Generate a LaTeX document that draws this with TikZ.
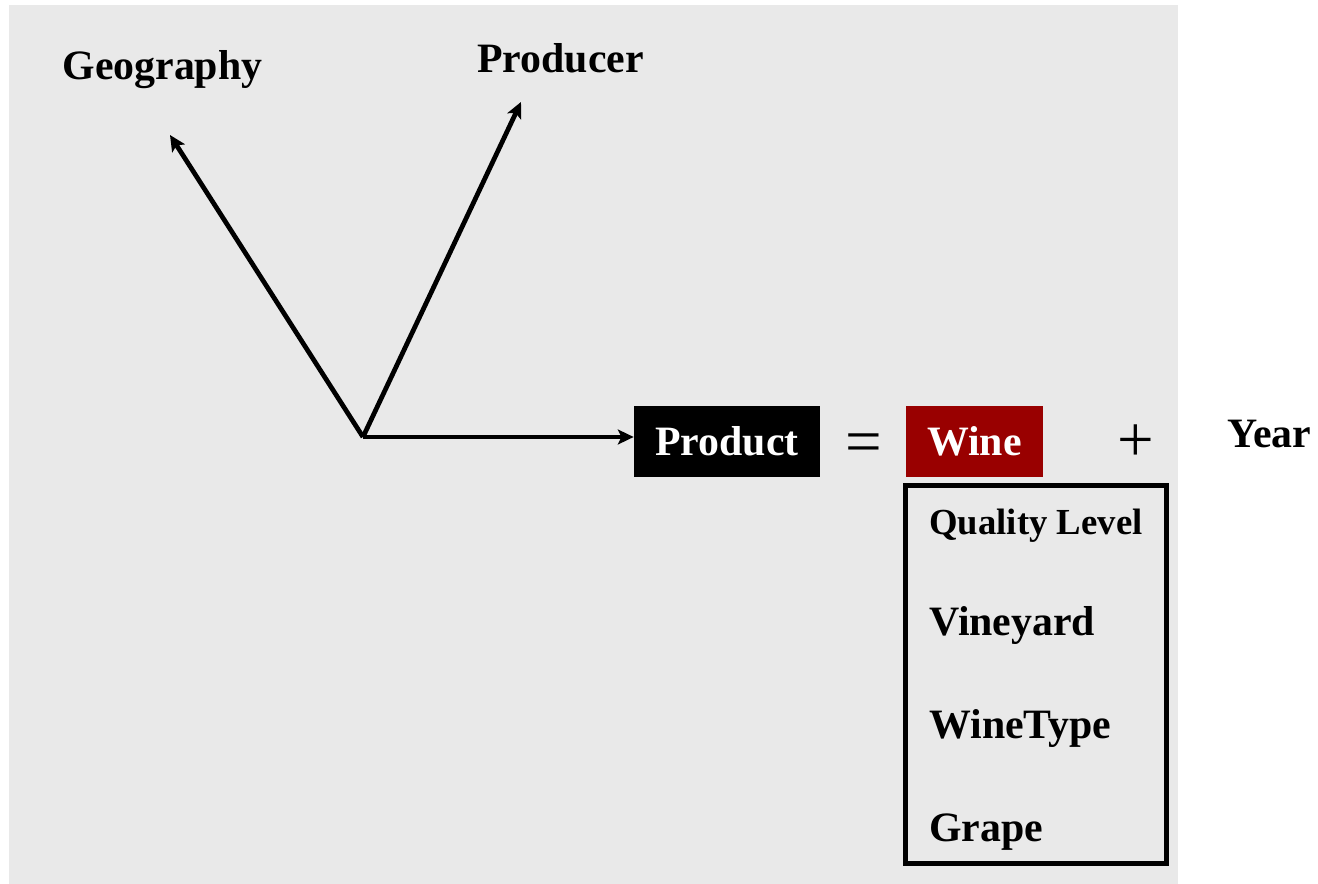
\documentclass[tikz,border=0pt]{standalone}
\usepackage{fontspec}
\setmainfont{Liberation Serif}
\usetikzlibrary{arrows.meta}
\definecolor{bggray}{RGB}{233,233,233}
\definecolor{winered}{RGB}{153,0,0}
\tikzset{
  lbl/.style={font=\fontsize{23.8}{28}\selectfont\bfseries, inner sep=0pt, anchor=base},
  attr/.style={font=\fontsize{23.8}{28}\selectfont\bfseries, inner sep=0pt, anchor=base west},
  sym/.style={font=\fontsize{37}{40}\selectfont, inner sep=0pt, anchor=base},
  conn/.style={line width=2.7pt, -{Stealth[length=9pt,width=8.5pt,inset=2pt]}},
  boxed/.style={font=\fontsize{23.8}{28}\selectfont\bfseries, text=white, inner sep=0pt,
    text height=0.58cm, text depth=0pt},
}
\begin{document}
\begin{tikzpicture}[x=0.02cm, y=-0.02cm]
\useasboundingbox (0,0) rectangle (1318,884);
\fill[bggray] (9,5) rectangle (1178,884);

\node[lbl] (geo) at (162.5,80) {Geography};
\node[lbl] (prod) at (560.5,73) {Producer};
\node[lbl] (year) at (1269.5,448) {Year};

\coordinate (o) at (363,437);
\coordinate (geotip) at (170,135);
\coordinate (prodtip) at (521,102);

\node[boxed, fill=black, minimum width=3.72cm, minimum height=1.42cm] (product) at (727,441.5) {Product};
\node[boxed, fill=winered, minimum width=2.74cm, minimum height=1.42cm] (wine) at (974.5,441.5) {Wine};

\node[sym] (eq) at (863.5,464) {=};
\node[sym] (plus) at (1135.5,462) {+};

\draw[conn] (o) -- (geotip);
\draw[conn] (o) -- (prodtip);
\draw[conn] (o) -- (product.west |- o);

\node[draw=black, line width=2.8pt, minimum width=5.22cm, minimum height=7.56cm, inner sep=0pt] (attrbox) at (1036,674.5) {};
\node[attr, font=\fontsize{20.9}{24}\selectfont\bfseries] (ql) at (929,535) {Quality Level};
\node[attr] (vy) at (929,636) {Vineyard};
\node[attr] (wt) at (929,738) {WineType};
\node[attr] (gr) at (929,841) {Grape};
\end{tikzpicture}
\end{document}
